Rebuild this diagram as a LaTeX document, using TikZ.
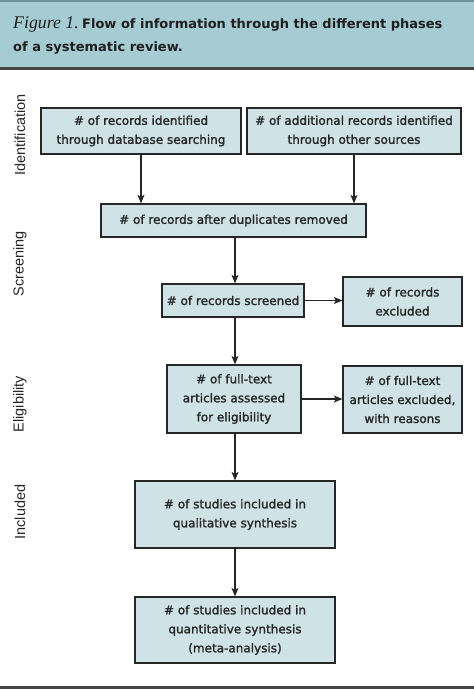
\documentclass[tikz,border=0pt]{standalone}
\usepackage{fontspec}
\setmainfont{DejaVu Sans}
\newfontfamily\boxfont[FakeBold=1.6]{DejaVu Sans}
\newfontfamily\labfont{Liberation Sans}
\newfontfamily\capserif{Liberation Serif}
\usetikzlibrary{arrows.meta,calc}
\definecolor{hdrfill}{HTML}{A4CCD2}
\definecolor{hdrtop}{HTML}{6E949A}
\definecolor{rulegrey}{HTML}{454545}
\definecolor{boxfill}{HTML}{CFE3E6}
\definecolor{inkgrey}{HTML}{262626}
\begin{document}
\begin{tikzpicture}[x=1pt,y=-1pt,
  flowbox/.style={draw=inkgrey,line width=1.2pt,fill=boxfill,inner sep=0pt,
    align=center,text=inkgrey,font=\boxfont\fontsize{12}{19}\selectfont},
  phase/.style={rotate=90,font=\labfont\fontsize{14.5}{16}\selectfont,text=inkgrey,inner sep=0pt},
  flowarrow/.style={draw=inkgrey,line width=1.1pt,-{Stealth[length=8.5pt,width=7pt,inset=2pt]}},
  titletext/.style={anchor=base west,inner sep=0pt,text=black!88}
]
\useasboundingbox (0,0) rectangle (474,689);
% header
\fill[hdrfill] (0,0) rectangle (474,67);
\fill[hdrtop] (0,0) rectangle (474,2);
\fill[rulegrey] (0,67) rectangle (474,69.5);
\fill[rulegrey] (0,686) rectangle (474,689);
\node[titletext] (t1a) at (13,28) {\capserif\itshape\fontsize{17.8}{20}\selectfont Figure 1.};
\node[titletext] (t1b) at (82,28) {\bfseries\fontsize{13}{18}\selectfont Flow of information through the different phases};
\node[titletext] (t2) at (13,51) {\bfseries\fontsize{13}{18}\selectfont of a systematic review.};
% phase labels
\node[phase] (pid) at (20,135) {Identification};
\node[phase] (psc) at (20,264) {Screening};
\node[phase] (pel) at (20,404) {Eligibility};
\node[phase] (pin) at (20,512) {Included};
% boxes
\node[flowbox,minimum width=200pt,minimum height=46pt] (A) at (141,131) {\# of records identified\\through database searching};
\node[flowbox,minimum width=214pt,minimum height=46pt] (B) at (354,131) {\# of additional records identified\\through other sources};
\node[flowbox,minimum width=265pt,minimum height=33pt] (C) at (233.5,220.5) {\# of records after duplicates removed};
\node[flowbox,minimum width=142pt,minimum height=33pt] (D) at (233,300.5) {\# of records screened};
\node[flowbox,minimum width=119pt,minimum height=49pt] (E) at (402.5,301.5) {\# of records\\excluded};
\node[flowbox,minimum width=134pt,minimum height=68pt] (F) at (234,399) {\# of full-text\\articles assessed\\for eligibility};
\node[flowbox,minimum width=119pt,minimum height=67pt] (G) at (402.5,399.5) {\# of full-text\\articles excluded,\\with reasons};
\node[flowbox,minimum width=200pt,minimum height=67pt] (H) at (235,514.5) {\# of studies included in\\qualitative synthesis};
\node[flowbox,minimum width=200pt,minimum height=66pt] (I) at (235,630) {\# of studies included in\\quantitative synthesis\\(meta-analysis)};
% connectors
\draw[flowarrow] (A.south) -- (A.south |- C.north);
\draw[flowarrow] (B.south) -- (B.south |- C.north);
\draw[flowarrow] (C.south -| H.north) -- (D.north -| H.north);
\draw[flowarrow] (D.east) -- (D.east -| E.west);
\draw[flowarrow] (D.south -| H.north) -- (F.north -| H.north);
\draw[flowarrow] (F.east) -- (F.east -| G.west);
\draw[flowarrow] (F.south -| H.north) -- (H.north);
\draw[flowarrow] (H.south) -- (I.north);
\end{tikzpicture}
\end{document}
